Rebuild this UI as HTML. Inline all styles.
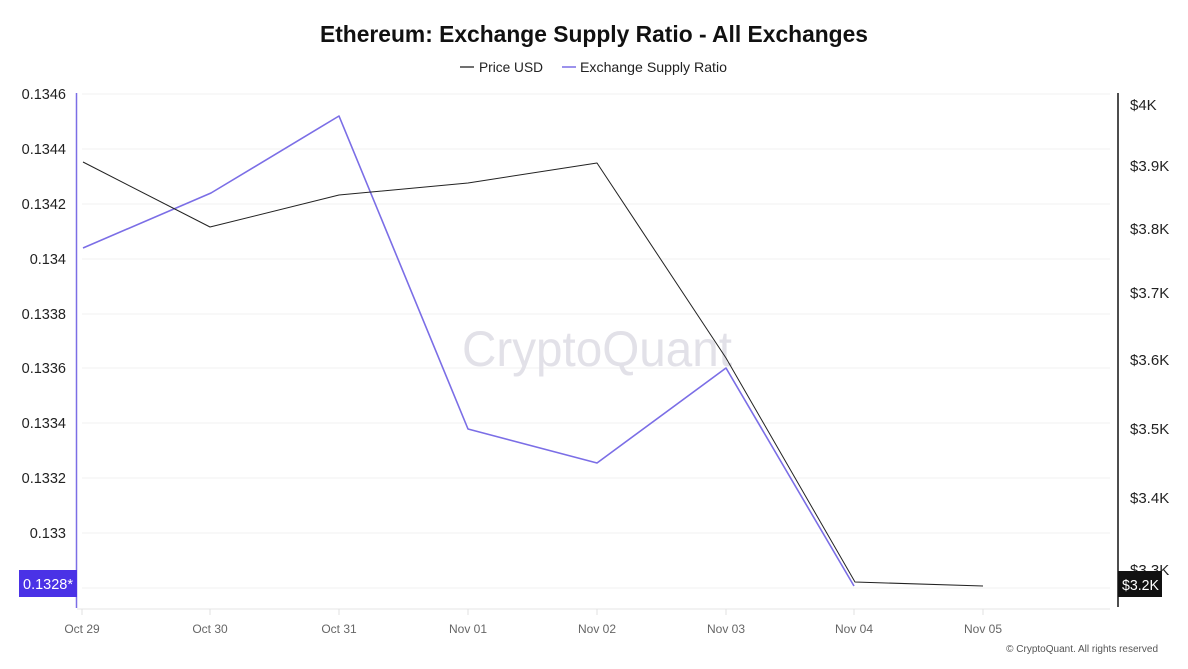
<!DOCTYPE html>
<html>
<head>
<meta charset="utf-8">
<style>
  html,body{margin:0;padding:0;background:#fff;}
  svg{display:block;}
  text{font-family:"Liberation Sans", sans-serif;}
</style>
</head>
<body>
<svg width="1188" height="669" viewBox="0 0 1188 669" xmlns="http://www.w3.org/2000/svg">
  <rect width="1188" height="669" fill="#fff"/>
  <!-- Title -->
  <text x="594" y="42" text-anchor="middle" font-size="23" font-weight="bold" fill="#111" textLength="548" lengthAdjust="spacingAndGlyphs">Ethereum: Exchange Supply Ratio - All Exchanges</text>
  <!-- Legend -->
  <line x1="460" y1="67" x2="474" y2="67" stroke="#111" stroke-width="1.2"/>
  <text x="479" y="72" font-size="14" fill="#222" textLength="64" lengthAdjust="spacingAndGlyphs">Price USD</text>
  <line x1="562" y1="67" x2="576" y2="67" stroke="#7b6ee6" stroke-width="1.5"/>
  <text x="580" y="72" font-size="14" fill="#222" textLength="147" lengthAdjust="spacingAndGlyphs">Exchange Supply Ratio</text>

  <!-- Gridlines -->
  <g stroke="#f0f0f0" stroke-width="1">
    <line x1="82" y1="94" x2="1110" y2="94"/>
    <line x1="82" y1="149" x2="1110" y2="149"/>
    <line x1="82" y1="204" x2="1110" y2="204"/>
    <line x1="82" y1="259" x2="1110" y2="259"/>
    <line x1="82" y1="314" x2="1110" y2="314"/>
    <line x1="82" y1="368" x2="1110" y2="368"/>
    <line x1="82" y1="423" x2="1110" y2="423"/>
    <line x1="82" y1="478" x2="1110" y2="478"/>
    <line x1="82" y1="533" x2="1110" y2="533"/>
    <line x1="82" y1="588" x2="1110" y2="588"/>
  </g>

  <!-- Watermark -->
  <text x="597" y="366" text-anchor="middle" font-size="50" fill="#e2e1e8" textLength="270" lengthAdjust="spacingAndGlyphs">CryptoQuant</text>

  <!-- X axis -->
  <line x1="77" y1="609" x2="1110" y2="609" stroke="#e6e6e6" stroke-width="1"/>
  <g stroke="#e0e0e0" stroke-width="1">
    <line x1="82" y1="609" x2="82" y2="615"/>
    <line x1="210" y1="609" x2="210" y2="615"/>
    <line x1="339" y1="609" x2="339" y2="615"/>
    <line x1="468" y1="609" x2="468" y2="615"/>
    <line x1="597" y1="609" x2="597" y2="615"/>
    <line x1="726" y1="609" x2="726" y2="615"/>
    <line x1="854" y1="609" x2="854" y2="615"/>
    <line x1="983" y1="609" x2="983" y2="615"/>
  </g>
  <g font-size="12" fill="#666" text-anchor="middle">
    <text x="82" y="633">Oct 29</text>
    <text x="210" y="633">Oct 30</text>
    <text x="339" y="633">Oct 31</text>
    <text x="468" y="633">Nov 01</text>
    <text x="597" y="633">Nov 02</text>
    <text x="726" y="633">Nov 03</text>
    <text x="854" y="633">Nov 04</text>
    <text x="983" y="633">Nov 05</text>
  </g>

  <!-- Left axis -->
  <line x1="76.5" y1="93" x2="76.5" y2="608" stroke="#7b6ee6" stroke-width="1.5"/>
  <g font-size="14.5" fill="#222" text-anchor="end">
    <text x="66" y="99">0.1346</text>
    <text x="66" y="154">0.1344</text>
    <text x="66" y="209">0.1342</text>
    <text x="66" y="264">0.134</text>
    <text x="66" y="319">0.1338</text>
    <text x="66" y="373">0.1336</text>
    <text x="66" y="428">0.1334</text>
    <text x="66" y="483">0.1332</text>
    <text x="66" y="538">0.133</text>
  </g>
  <rect x="19" y="570" width="58" height="27" fill="#4a32e6"/>
  <text x="23" y="589" font-size="14.5" fill="#fff" textLength="50" lengthAdjust="spacingAndGlyphs">0.1328*</text>

  <!-- Right axis -->
  <line x1="1118" y1="93" x2="1118" y2="607" stroke="#222" stroke-width="1.6"/>
  <g font-size="15" fill="#222">
    <text x="1130" y="110">$4K</text>
    <text x="1130" y="171">$3.9K</text>
    <text x="1130" y="234">$3.8K</text>
    <text x="1130" y="298">$3.7K</text>
    <text x="1130" y="365">$3.6K</text>
    <text x="1130" y="434">$3.5K</text>
    <text x="1130" y="503">$3.4K</text>
    <text x="1130" y="575">$3.3K</text>
  </g>
  <rect x="1118" y="571" width="44" height="26" fill="#111"/>
  <text x="1122" y="590" font-size="15" fill="#fff" textLength="37" lengthAdjust="spacingAndGlyphs">$3.2K</text>

  <!-- Series: Exchange Supply Ratio -->
  <polyline fill="none" stroke="#7b6ee6" stroke-width="1.6" stroke-linejoin="round"
    points="83,248 211,193 339,116 468,429 597,463 726,368 854,586"/>
  <!-- Series: Price USD -->
  <polyline fill="none" stroke="#222" stroke-width="1" stroke-linejoin="round"
    points="83,162 210,227 339,195 468,183 597,163 726,358 855,582 983,586"/>

  <!-- Copyright -->
  <text x="1158" y="652" font-size="10" fill="#555" text-anchor="end">© CryptoQuant. All rights reserved</text>
</svg>
</body>
</html>
